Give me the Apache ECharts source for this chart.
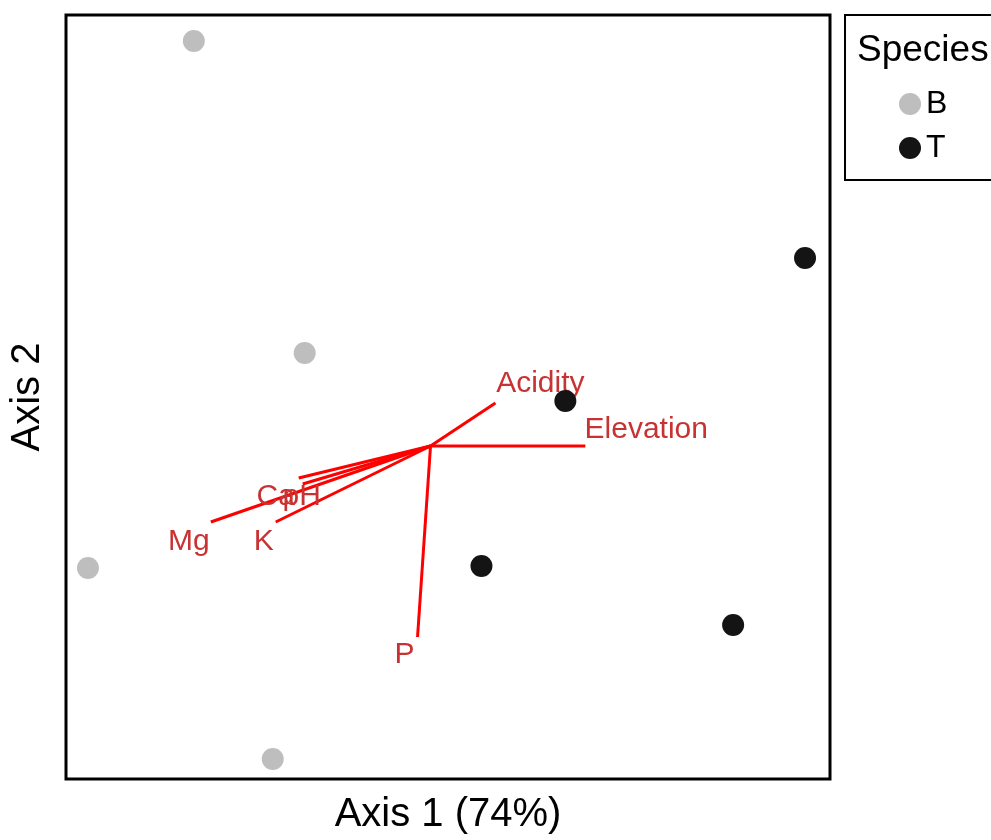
<!DOCTYPE html>
<html>
<head>
<meta charset="utf-8">
<script src="https://cdn.jsdelivr.net/npm/echarts@6/dist/echarts.min.js"></script>
<style>
  html, body { margin: 0; padding: 0; background: #fff; }
  #chart { width: 991px; height: 840px; }
</style>
</head>
<body>
<div id="chart"></div>
<script>
// site scores (Axis 1, Axis 2)
var speciesB = [[-2.37, 4.05], [-1.26, 0.93], [-3.43, -1.22], [-1.58, -3.13]];
var speciesT = [[3.75, 1.88], [1.35, 0.45], [0.51, -1.20], [3.03, -1.79]];

// environmental vectors: tip and label anchor
var envNames = ['Acidity', 'Elevation', 'Ca', 'pH', 'Mg', 'K', 'P'];
var envAxis1 = [0.65, 1.55, -1.32, -1.28, -2.20, -1.55, -0.13];
var envAxis2 = [0.43, 0.00, -0.32, -0.38, -0.76, -0.76, -1.91];
var labelAxis1 = [1.10, 2.16, -1.55, -1.29, -2.42, -1.67, -0.26];
var labelAxis2 = [0.62, 0.16, -0.51, -0.51, -0.96, -0.96, -2.09];

var FONT = '"Liberation Sans", Arial, sans-serif';

var envData = envNames.map(function (n, i) {
    return [envAxis1[i], envAxis2[i], labelAxis1[i], labelAxis2[i]];
});

var myChart = echarts.init(document.getElementById('chart'));
var option = {
    animation: false,
    textStyle: { fontFamily: FONT },
    grid: {
        left: 65, top: 15, right: 161, bottom: 61,
        show: true,
        borderColor: '#000',
        borderWidth: 3,
        backgroundColor: '#fff'
    },
    xAxis: {
        type: 'value',
        min: -3.65, max: 4.0,
        name: 'Axis 1 (74%)',
        nameLocation: 'middle',
        nameGap: 16,
        nameTextStyle: { fontSize: 40, color: '#000', verticalAlign: 'top' },
        axisLine: { show: false },
        axisTick: { show: false },
        axisLabel: { show: false },
        splitLine: { show: false }
    },
    yAxis: {
        type: 'value',
        min: -3.33, max: 4.31,
        name: 'Axis 2',
        nameLocation: 'middle',
        nameGap: 18,
        nameTextStyle: { fontSize: 40, color: '#000' },
        axisLine: { show: false },
        axisTick: { show: false },
        axisLabel: { show: false },
        splitLine: { show: false }
    },
    legend: {
        data: [{ name: 'B', icon: 'circle' }, { name: 'T', icon: 'circle' }],
        orient: 'vertical',
        left: 899,
        top: 88,
        padding: 0,
        itemWidth: 22,
        itemHeight: 22,
        itemGap: 12,
        textStyle: { fontSize: 32, color: '#000', fontFamily: FONT }
    },
    graphic: [
        {
            type: 'rect',
            shape: { x: 845, y: 15, width: 170, height: 165 },
            style: { fill: '#fff', stroke: '#000', lineWidth: 2 },
            z: -1
        },
        {
            type: 'text',
            x: 857, y: 51,
            style: {
                text: 'Species',
                font: '37px ' + FONT,
                fill: '#000',
                verticalAlign: 'middle'
            }
        }
    ],
    series: [
        {
            name: 'vectors',
            type: 'custom',
            data: envData,
            encode: { x: 0, y: 1 },
            renderItem: function (params, api) {
                var o = api.coord([0, 0]);
                var t = api.coord([api.value(0), api.value(1)]);
                var l = api.coord([api.value(2), api.value(3)]);
                return {
                    type: 'group',
                    children: [
                        {
                            type: 'line',
                            shape: { x1: o[0], y1: o[1], x2: t[0], y2: t[1] },
                            style: { stroke: '#ff0000', lineWidth: 3 },
                            z2: 1
                        },
                        {
                            type: 'text',
                            x: l[0], y: l[1],
                            style: {
                                text: envNames[params.dataIndex],
                                font: '30px ' + FONT,
                                fill: '#c83232',
                                align: 'center',
                                verticalAlign: 'middle'
                            },
                            z2: 10
                        }
                    ]
                };
            }
        },
        {
            name: 'B',
            type: 'scatter',
            symbol: 'circle',
            symbolSize: 22,
            itemStyle: { color: '#bebebe', opacity: 1 },
            data: speciesB
        },
        {
            name: 'T',
            type: 'scatter',
            symbol: 'circle',
            symbolSize: 22,
            itemStyle: { color: '#141414', opacity: 1 },
            data: speciesT
        }
    ]
};
myChart.setOption(option);
</script>
</body>
</html>
